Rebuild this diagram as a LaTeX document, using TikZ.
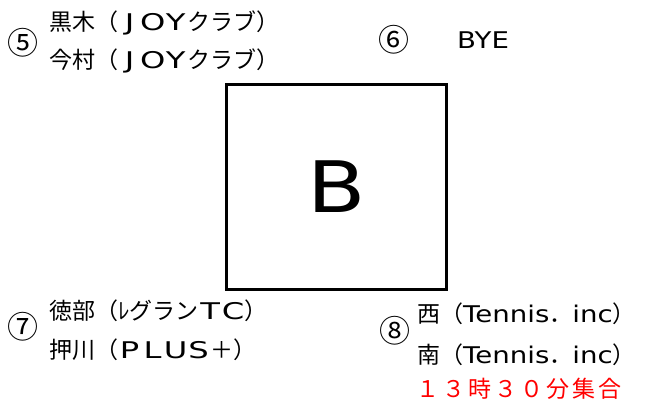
\documentclass[tikz,border=0pt]{standalone}
\usepackage{fontspec}
\setmainfont{Noto Sans CJK JP}
\newfontfamily\latfont[FakeStretch=1.2]{DejaVu Sans}
\newfontfamily\widefont[FakeStretch=1.4]{DejaVu Sans}
\newfontfamily\gapfont[LetterSpace=13]{Noto Sans CJK JP}
\newcommand\fwcell[1]{\makebox[1em]{\widefont #1}}
\tikzset{
	player/.style={anchor=west, inner sep=0pt, font=\fontsize{23}{23}\selectfont, text height=20pt, text depth=3pt},
	slot/.style={inner sep=0pt, font=\fontsize{31}{31}\selectfont},
}
\begin{document}
\begin{tikzpicture}[x=1pt,y=-1pt]
	\useasboundingbox (0,0) rectangle (649,405);
	
	%block box
	\node[draw, line width=2.5pt, minimum width=220pt, minimum height=205pt, inner sep=0pt] (blockB) at (336.5,187) {};
	\node[inner sep=0pt, font=\latfont\fontsize{71}{71}\selectfont] (letterB) at (blockB.center) {B};
	
	%top left
	\node[slot] (s5) at (23.5,43) {⑤};
	\node[player] (p5a) at (49,22) {黒木（\fwcell{J}\fwcell{O}\fwcell{Y}クラブ）};
	\node[player] (p5b) at (49,60) {今村（\fwcell{J}\fwcell{O}\fwcell{Y}クラブ）};
	
	%top right
	\node[slot] (s6) at (394,40) {⑥};
	\node[player, font=\latfont\fontsize{23}{23}\selectfont] (p6) at (457,40) {BYE};
	
	%bottom left
	\node[slot] (s7) at (23.5,327) {⑦};
	\node[player] (p7a) at (49,311) {徳部（ﾚグラン\fwcell{T}\fwcell{C}）};
	\node[player] (p7b) at (49,350) {押川（\fwcell{P}\fwcell{L}\fwcell{U}\fwcell{S}＋）};
	
	%bottom right
	\node[slot] (s8) at (395,331) {⑧};
	\node[player] (p8a) at (417,314) {西（{\latfont Tennis}．{\latfont inc}）};
	\node[player] (p8b) at (417,355) {南（{\latfont Tennis}．{\latfont inc}）};
	\node[player, text=red, font=\gapfont\fontsize{23}{23}\selectfont] (meet) at (416,389) {１３時３０分集合};
\end{tikzpicture}
\end{document}
